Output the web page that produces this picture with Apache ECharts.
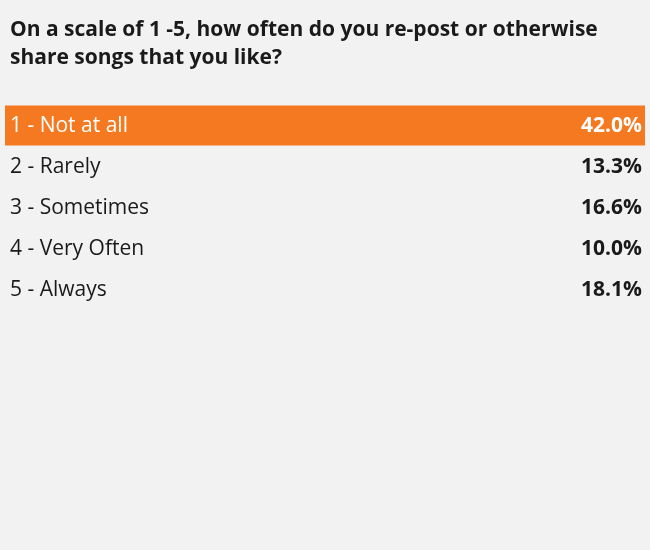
<!DOCTYPE html>
<html>
<head>
<meta charset="utf-8">
<script src="https://cdn.jsdelivr.net/npm/echarts@6/dist/echarts.min.js"></script>
<style>
html,body{margin:0;padding:0;background:#f2f2f2;}
#chart{width:650px;height:550px;}
</style>
</head>
<body>
<div id="chart"></div>
<script>
var titleText = "On a scale of 1 -5, how often do you re-post or otherwise\nshare songs that you like?";
var categories = ["1 - Not at all", "2 - Rarely", "3 - Sometimes", "4 - Very Often", "5 - Always"];
var values = [42.0, 13.3, 16.6, 10.0, 18.1];

var maxVal = Math.max.apply(null, values);
var maxIdx = values.indexOf(maxVal);
var xMax = 100;
var highlight = values.map(function (v, i) { return i === maxIdx ? xMax : '-'; });

var FONT = "'Open Sans', 'Noto Sans', sans-serif";
var chart = echarts.init(document.getElementById('chart'), null, {renderer: 'canvas'});
chart.setOption({
  backgroundColor: '#f2f2f2',
  animation: false,
  title: {
    text: titleText,
    left: 5,
    top: 11,
    textStyle: {
      fontFamily: FONT,
      fontSize: 21,
      fontWeight: 'bold',
      color: '#1a1a1a',
      lineHeight: 28
    }
  },
  grid: {left: 5, right: 5, top: 105, height: 206, containLabel: false},
  xAxis: {type: 'value', min: 0, max: xMax, show: false},
  yAxis: [{
    type: 'category',
    data: categories,
    inverse: true,
    z: 10,
    axisLine: {show: false},
    axisTick: {show: false},
    splitLine: {show: false},
    axisLabel: {
      inside: true,
      margin: 5,
      padding: [4, 0, 0, 0],
      fontFamily: FONT,
      fontSize: 21,
      color: function (v, i) { return i === maxIdx ? '#ffffff' : '#1a1a1a'; }
    }
  }, {
    type: 'category',
    data: categories,
    inverse: true,
    position: 'right',
    z: 10,
    axisLine: {show: false},
    axisTick: {show: false},
    splitLine: {show: false},
    axisLabel: {
      inside: true,
      margin: 3,
      padding: [4, 0, 0, 0],
      fontFamily: FONT,
      fontSize: 21,
      fontWeight: 'bold',
      formatter: function (v, i) { return values[i].toFixed(1) + '%'; },
      color: function (v, i) { return i === maxIdx ? '#ffffff' : '#1a1a1a'; }
    }
  }],
  series: [{
    type: 'bar',
    name: 'highlight',
    data: highlight,
    barWidth: 40,
    itemStyle: {color: '#f47920'},
    z: 1,
    silent: true
  }]
});
</script>
</body>
</html>
